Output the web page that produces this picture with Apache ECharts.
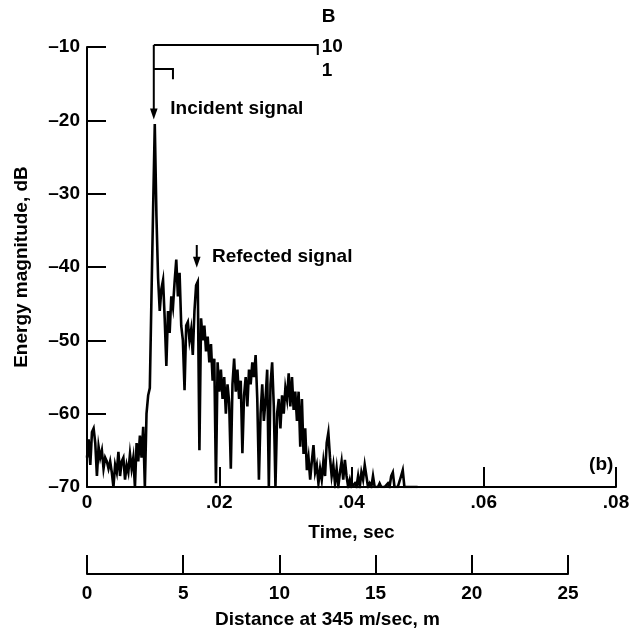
<!DOCTYPE html>
<html>
<head>
<meta charset="utf-8">
<script src="https://cdn.jsdelivr.net/npm/echarts@6/dist/echarts.min.js"></script>
<style>
  html, body { margin: 0; padding: 0; background: #fff; }
  #chart { width: 634px; height: 635px; }
</style>
</head>
<body>
<div id="chart"></div>
<script>
// Energy envelope of the recorded pulse, sampled every 0.25 ms from t = 0
const sampleStartSec = 0;
const sampleStepSec = 0.00025;
const energyDb = [
  -66, -63.5, -67, -62.5, -62, -64, -68.5, -64.5, -66, -65,
  -67.5, -66, -66.5, -67.5, -66.5, -68, -70, -67, -68, -65.2,
  -68.5, -66.5, -66, -69, -67, -68, -65.5, -67.5, -66, -70,
  -64, -66.5, -63, -66, -61.8, -70, -60, -57.5, -56.5, -44,
  -32, -20.5, -33, -41.5, -46, -43, -41.8, -47, -53.5, -46,
  -49, -44, -45.5, -42, -39, -44, -40.8, -48, -50, -56.8,
  -48, -47.5, -50, -48.5, -52, -46, -42.5, -42, -65, -47,
  -50, -48, -51.5, -49.5, -53, -50.5, -55.5, -52.5, -69.5, -53,
  -57, -54, -58, -55, -60, -56, -58.5, -67.5, -56, -52.5,
  -57, -54, -58, -55.5, -65.4, -57.5, -55, -59, -54, -56,
  -53, -55, -52, -58, -69, -60, -56, -61, -58, -54,
  -70, -56, -53, -59, -70, -60, -58, -62, -57.5, -60,
  -56.5, -58, -54.5, -59, -55, -59.5, -57, -61, -57, -64.5,
  -58, -65.5, -62, -67.7, -66, -69, -66.5, -64.3, -68, -67,
  -69.5, -67.5, -69, -66.5, -68.5, -64, -62.6, -66, -68.5, -67,
  -69.5, -67.5, -70, -68, -66.5, -69, -66.3, -68.5, -70, -69,
  -70, -70, -69.5, -70, -68.5, -70, -68, -69, -67, -68.5,
  -70, -69.5, -70, -68.5, -70, -70, -70, -69.5, -70, -70,
  -70, -70, -69.5, -70, -68.5, -68, -70, -70, -70, -70,
  -68.5, -67.7, -70, -70, -70, -70, -70, -70, -70, -70,
  -70
];

// Axis ranges and tick values
const timeTicks = [0, 0.02, 0.04, 0.06, 0.08];
const dbTicks = [-70, -60, -50, -40, -30, -20, -10];
const distanceTicks = [0, 5, 10, 15, 20, 25];

// Annotation anchors (time in s, level in dB)
const incidentTime = 0.0101;
const reflectedTime = 0.0166;
const bracketTopDb = -9.73;
const bracketLongEnd = 0.0349;
const bracketShortEnd = 0.0130;
const bracketShortDb = -13.0;
const bracketLabels = ['B', '10', '1'];

const FONT = '"Liberation Sans", Arial, Helvetica, sans-serif';
const FS = 19;
const INK = '#000';

const seriesData = energyDb.map((v, i) => [+(sampleStartSec + i * sampleStepSec).toFixed(5), v]);

const dash = s => String(s).replace('-', '\u2013');

const textStyle = { color: INK, fontFamily: FONT, fontWeight: 'bold', fontSize: FS };

const option = {
  animation: false,
  backgroundColor: '#fff',
  grid: [
    { left: 87, top: 47, width: 529, height: 440 },
    { left: 87, top: 555, width: 481, height: 19 }
  ],
  xAxis: [
    {
      gridIndex: 0, type: 'value',
      min: timeTicks[0], max: timeTicks[timeTicks.length - 1], interval: timeTicks[1] - timeTicks[0],
      name: 'Time, sec', nameLocation: 'middle', nameGap: 36,
      nameTextStyle: textStyle,
      axisLine: { lineStyle: { color: INK, width: 2 } },
      axisTick: { inside: true, length: 20, lineStyle: { color: INK, width: 2 } },
      axisLabel: {
        margin: 6, ...textStyle,
        formatter: v => v === 0 ? '0' : String(+v.toFixed(2)).replace(/^0/, ''),
        showMaxLabel: true
      },
      splitLine: { show: false }
    },
    {
      gridIndex: 1, type: 'value',
      min: distanceTicks[0], max: distanceTicks[distanceTicks.length - 1], interval: distanceTicks[1] - distanceTicks[0],
      name: 'Distance at 345 m/sec, m', nameLocation: 'middle', nameGap: 36,
      nameTextStyle: textStyle,
      axisLine: { lineStyle: { color: INK, width: 2 } },
      axisTick: { inside: true, length: 19, lineStyle: { color: INK, width: 2 } },
      axisLabel: { margin: 10, ...textStyle },
      splitLine: { show: false }
    }
  ],
  yAxis: [
    {
      gridIndex: 0, type: 'value',
      min: dbTicks[0], max: dbTicks[dbTicks.length - 1], interval: dbTicks[1] - dbTicks[0],
      name: 'Energy magnitude, dB', nameLocation: 'middle', nameGap: 56,
      nameTextStyle: textStyle,
      axisLine: { show: true, lineStyle: { color: INK, width: 2 } },
      axisTick: { show: true, inside: true, length: 19, lineStyle: { color: INK, width: 2 } },
      axisLabel: { margin: 7, ...textStyle, formatter: v => dash(v) },
      splitLine: { show: false }
    },
    {
      gridIndex: 1, type: 'value', min: 0, max: 1, show: false
    }
  ],
  series: [
    {
      type: 'line',
      xAxisIndex: 0, yAxisIndex: 0,
      data: seriesData,
      showSymbol: false,
      symbol: 'none',
      lineStyle: { color: INK, width: 2.6, join: 'miter' },
      z: 3
    },
    {
      type: 'line', xAxisIndex: 1, yAxisIndex: 1, data: [], symbol: 'none'
    }
  ]
};

const chart = echarts.init(document.getElementById('chart'), null, { renderer: 'canvas' });
chart.setOption(option);

const px = (t, db) => chart.convertToPixel({ xAxisIndex: 0, yAxisIndex: 0 }, [t, db]);

function downArrow(t, dbTop, dbTip) {
  const a = px(t, dbTop), b = px(t, dbTip);
  const headLen = 11, half = 3.8;
  return [
    { type: 'line', shape: { x1: a[0], y1: a[1], x2: b[0], y2: b[1] - headLen + 1 },
      style: { stroke: INK, lineWidth: 2 } },
    { type: 'polygon', shape: { points: [[b[0] - half, b[1] - headLen], [b[0] + half, b[1] - headLen], [b[0], b[1]]] },
      style: { fill: INK } }
  ];
}

function label(t, db, text, align) {
  const p = px(t, db);
  return { type: 'text', x: p[0], y: p[1],
    style: { text, fill: INK, font: 'bold ' + FS + 'px ' + FONT, align: align || 'left', verticalAlign: 'middle' } };
}

const top0 = px(incidentTime, bracketTopDb);
const topEnd = px(bracketLongEnd, bracketTopDb);
const topDrop = px(bracketLongEnd, -11.1);
const sh0 = px(incidentTime, bracketShortDb);
const shEnd = px(bracketShortEnd, bracketShortDb);
const shDrop = px(bracketShortEnd, -14.4);

const graphics = [
  { type: 'polyline', shape: { points: [top0, topEnd, topDrop] }, style: { stroke: INK, lineWidth: 2, fill: null } },
  { type: 'polyline', shape: { points: [sh0, shEnd, shDrop] }, style: { stroke: INK, lineWidth: 2, fill: null } },
  ...downArrow(incidentTime, bracketTopDb, -19.9),
  ...downArrow(reflectedTime, -37.0, -40.1),
  label(0.0126, -18.4, 'Incident signal'),
  label(0.0189, -38.6, 'Refected signal'),
  label(0.0355, -5.9, bracketLabels[0]),
  label(0.0355, -10.0, bracketLabels[1]),
  label(0.0355, -13.2, bracketLabels[2]),
  label(0.0796, -67.0, '(b)', 'right')
];

chart.setOption({ graphic: graphics });
</script>
</body>
</html>
